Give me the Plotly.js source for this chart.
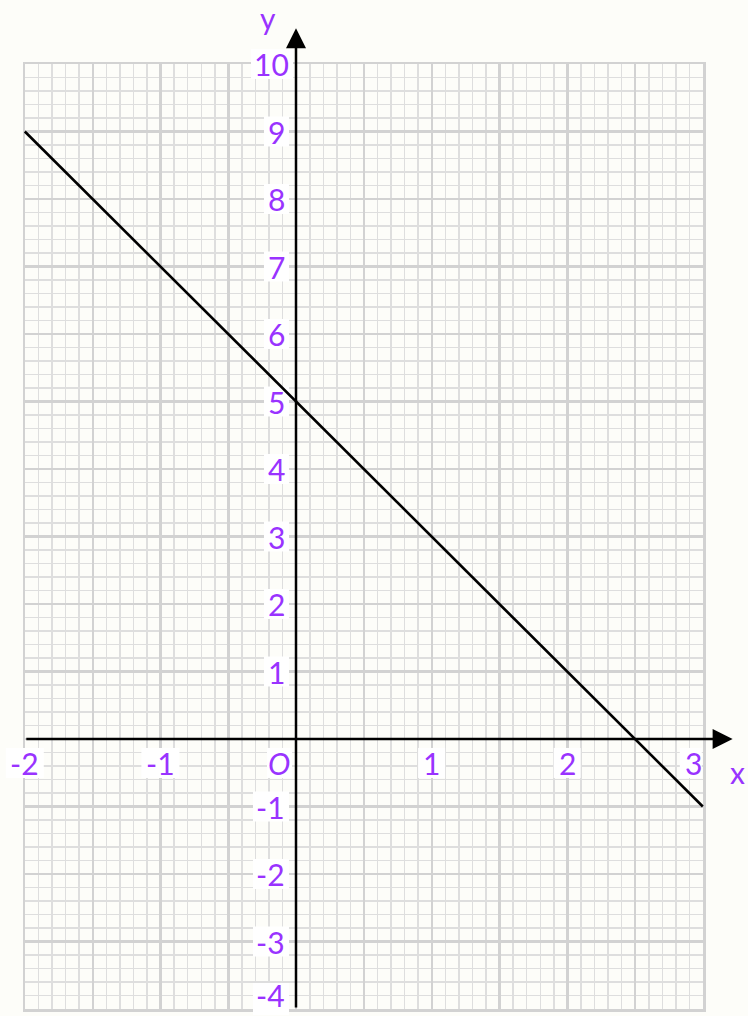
<!DOCTYPE html>
<html>
<head>
<meta charset="utf-8">
<script src="https://cdn.plot.ly/plotly-3.0.1.min.js"></script>
<style>
  html, body { margin: 0; padding: 0; background: #fdfdf9; }
  #chart { width: 748px; height: 1016px; }
</style>
</head>
<body>
<div id="chart"></div>
<script>
// datos de la recta y = 5 - 2x
var rectaX = [-2, 3];
var rectaY = [9, -1];

// etiquetas de los ejes
var ticksX = [-2, -1, 1, 2, 3];
var ticksY = [-4, -3, -2, -1, 1, 2, 3, 4, 5, 6, 7, 8, 9, 10];

var morado = '#9933ff';
var fuente = { family: 'Lato, "Noto Sans", sans-serif', size: 30, color: morado };

// ancho aproximado del texto en pixeles
function anchoTexto(t) {
  var w = 0;
  for (var i = 0; i < t.length; i++) { w += (t[i] === '-') ? 11 : 17; }
  return w;
}

// traza vacia para que exista el papel cuadriculado (x, y)
var papel = { x: [], y: [], xaxis: 'x', yaxis: 'y', type: 'scatter', mode: 'lines', hoverinfo: 'skip' };

// recta principal (ejes de toda la pagina)
var traza = {
  x: rectaX,
  y: rectaY,
  xaxis: 'x2',
  yaxis: 'y2',
  type: 'scatter',
  mode: 'lines',
  line: { color: '#000000', width: 2.6 },
  hoverinfo: 'skip'
};

var anotaciones = [];
var formas = [];
var yEtiquetaX = -0.355;

// eje x con flecha
anotaciones.push({
  xref: 'x2', yref: 'y2', axref: 'x2', ayref: 'y2',
  x: 3.22, y: 0, ax: -2, ay: 0,
  text: '', showarrow: true,
  arrowhead: 2, arrowsize: 1.6, arrowwidth: 2.5, arrowcolor: '#000000'
});
// eje y con flecha
anotaciones.push({
  xref: 'x2', yref: 'y2', axref: 'x2', ayref: 'y2',
  x: 0, y: 10.53, ax: 0, ay: -4,
  text: '', showarrow: true,
  arrowhead: 2, arrowsize: 1.6, arrowwidth: 2.5, arrowcolor: '#000000'
});

// caja blanca detras de una etiqueta (en pixeles alrededor de un punto)
function caja(xv, yv, x0, x1, y0, y1) {
  formas.push({
    type: 'rect', layer: 'below',
    xref: 'x2', yref: 'y2',
    xsizemode: 'pixel', ysizemode: 'pixel',
    xanchor: xv, yanchor: yv,
    x0: x0, x1: x1, y0: (y0 === undefined ? -15 : y0), y1: (y1 === undefined ? 15 : y1),
    fillcolor: '#ffffff', line: { width: 0 }
  });
}

// etiquetas del eje x
ticksX.forEach(function (v) {
  var t = String(v);
  var w = anchoTexto(t);
  var ultimo = (v === ticksX[ticksX.length - 1]);
  anotaciones.push({
    xref: 'x2', yref: 'y2', x: v, y: yEtiquetaX,
    text: t, showarrow: false,
    xanchor: ultimo ? 'right' : 'center',
    xshift: ultimo ? 1 : 0,
    yanchor: 'middle', font: fuente
  });
  if (ultimo) { caja(v, yEtiquetaX, -w - 6, -1); }
  else { caja(v, yEtiquetaX, -w / 2 - 5, w / 2 + 5); }
});
// origen
anotaciones.push({
  xref: 'x2', yref: 'y2', x: 0, y: yEtiquetaX,
  text: '<i>O</i>', showarrow: false,
  xanchor: 'right', xshift: -4, yanchor: 'middle', font: fuente
});
caja(0, yEtiquetaX, -29, -4);

// etiquetas del eje y
ticksY.forEach(function (v) {
  var t = String(v);
  var w = anchoTexto(t);
  var dx = (v === 10) ? -5 : -9;
  var abajo = (v === ticksY[0]);
  anotaciones.push({
    xref: 'x2', yref: 'y2', x: 0, y: abajo ? -4.09 : v,
    text: t, showarrow: false,
    xanchor: 'right', xshift: dx, yanchor: abajo ? 'bottom' : 'middle', font: fuente
  });
  if (abajo) { caja(0, -4.09, dx - w - 6, dx + 2, 0, 32); }
  else { caja(0, v, dx - w - 6, dx + 2); }
});

// nombres de los ejes
anotaciones.push({
  xref: 'x2', yref: 'y2', x: -0.21, y: 10.68, text: 'y',
  showarrow: false, xanchor: 'center', yanchor: 'middle', font: fuente
});
anotaciones.push({
  xref: 'x2', yref: 'y2', x: 3.325, y: -0.49, text: 'x',
  showarrow: false, xanchor: 'right', yanchor: 'middle', font: fuente
});

var layout = {
  width: 748,
  height: 1016,
  margin: { l: 0, r: 0, t: 0, b: 0 },
  paper_bgcolor: '#fdfdf9',
  plot_bgcolor: 'rgba(0,0,0,0)',
  showlegend: false,
  // papel cuadriculado
  xaxis: {
    domain: [25 / 748, 703 / 748],
    range: [-2, 3],
    anchor: 'y',
    showgrid: true, dtick: 0.5, tick0: 0,
    gridcolor: '#d2d2d2', gridwidth: 2.5,
    minor: { dtick: 0.1, tick0: 0, showgrid: true, gridcolor: '#dedede', gridwidth: 1.5 },
    zeroline: false, showticklabels: false, ticks: '',
    showline: true, mirror: true, linecolor: '#d2d2d2', linewidth: 2.5,
    fixedrange: true
  },
  yaxis: {
    domain: [7 / 1016, 952 / 1016],
    range: [-4, 10],
    anchor: 'x',
    showgrid: true, dtick: 1, tick0: 0,
    gridcolor: '#d2d2d2', gridwidth: 2.5,
    minor: { dtick: 0.2, tick0: 0, showgrid: true, gridcolor: '#dedede', gridwidth: 1.5 },
    zeroline: false, showticklabels: false, ticks: '',
    showline: true, mirror: true, linecolor: '#d2d2d2', linewidth: 2.5,
    fixedrange: true
  },
  // ejes de toda la pagina para la recta
  xaxis2: {
    domain: [0, 1],
    range: [-296 / 135.6, (748 - 296) / 135.6],
    anchor: 'y2',
    visible: false, fixedrange: true
  },
  yaxis2: {
    domain: [0, 1],
    range: [-(1016 - 739) / 67.5, 739 / 67.5],
    anchor: 'x2',
    visible: false, fixedrange: true
  },
  shapes: formas,
  annotations: anotaciones
};

Plotly.newPlot('chart', [papel, traza], layout, { displayModeBar: false, staticPlot: true });
</script>
</body>
</html>
